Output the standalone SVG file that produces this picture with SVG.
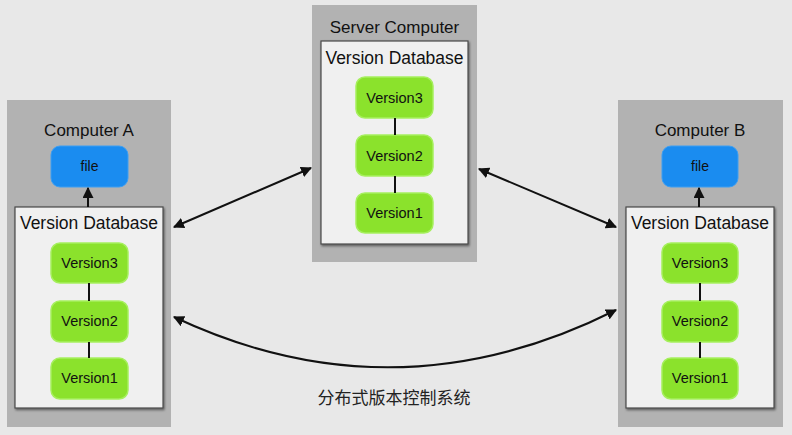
<svg xmlns="http://www.w3.org/2000/svg" width="792" height="435" viewBox="0 0 792 435">
<defs>
<marker id="ah" viewBox="0 0 10 10" refX="9" refY="5" markerWidth="5.5" markerHeight="5.5" orient="auto-start-reverse" markerUnits="strokeWidth">
<path d="M0,0 L10,5 L0,10 z" fill="#111"/>
</marker>
<filter id="sh" x="-10%" y="-10%" width="130%" height="130%">
<feDropShadow dx="1" dy="1.5" stdDeviation="1" flood-color="#000" flood-opacity="0.5"/>
</filter>
</defs>
<style>
.outer{fill:#b2b2b2;}
.db{fill:#f0f0f0;stroke:#4a4a4a;stroke-width:1.2;filter:url(#sh);}
.ver{fill:#8be22c;stroke:#a6ef5e;stroke-width:1.5;}
.file{fill:#1a8cf0;stroke:#3c9ef2;stroke-width:1;}
.t{font-family:"Liberation Sans",Arial,sans-serif;fill:#111;text-anchor:middle;}
.title{font-size:17px;}
.dbt{font-size:17.5px;}
.vt{font-size:14.5px;}
.ft{font-size:14px;}
.cn{font-family:"Noto Sans CJK SC","Noto Sans",sans-serif;font-size:17px;fill:#222;text-anchor:middle;}
.link{stroke:#111;stroke-width:2;fill:none;}
.conn{stroke:#111;stroke-width:2;fill:none;}
</style>
<rect width="792" height="435" fill="#e8e8e8"/>

<g id="computerA">
<rect class="outer" x="7" y="100" width="164" height="327"/>
<text class="t title" x="89" y="136">Computer A</text>
<rect class="file" x="51" y="146" width="77" height="41" rx="9"/>
<text class="t ft" x="89.5" y="171">file</text>
<rect class="db" x="15" y="207" width="148" height="201"/>
<text class="t dbt" x="89" y="229">Version Database</text>
<rect class="ver" x="51" y="243" width="77" height="40" rx="9"/>
<text class="t vt" x="89.5" y="268">Version3</text>
<rect class="ver" x="51" y="301" width="77" height="41" rx="9"/>
<text class="t vt" x="89.5" y="326">Version2</text>
<rect class="ver" x="51" y="358" width="77" height="41" rx="9"/>
<text class="t vt" x="89.5" y="383">Version1</text>
<line class="link" x1="89" y1="283" x2="89" y2="301"/>
<line class="link" x1="89" y1="342" x2="89" y2="358"/>
<line class="link" x1="88" y1="207" x2="88" y2="188" marker-end="url(#ah)"/>
</g>

<g id="server">
<rect class="outer" x="312" y="5" width="165" height="257"/>
<text class="t title" x="394.5" y="33">Server Computer</text>
<rect class="db" x="321" y="41" width="147" height="203"/>
<text class="t dbt" x="394.5" y="64">Version Database</text>
<rect class="ver" x="356" y="77" width="77" height="41" rx="9"/>
<text class="t vt" x="394.5" y="103">Version3</text>
<rect class="ver" x="356" y="135" width="77" height="41" rx="9"/>
<text class="t vt" x="394.5" y="161">Version2</text>
<rect class="ver" x="356" y="193" width="77" height="40" rx="9"/>
<text class="t vt" x="394.5" y="218">Version1</text>
<line class="link" x1="395" y1="118" x2="395" y2="135"/>
<line class="link" x1="395" y1="176" x2="395" y2="193"/>
</g>

<g id="computerB">
<rect class="outer" x="618" y="100" width="165" height="327"/>
<text class="t title" x="700" y="136">Computer B</text>
<rect class="file" x="662" y="146" width="76" height="41" rx="9"/>
<text class="t ft" x="700" y="171">file</text>
<rect class="db" x="626" y="207" width="148" height="201"/>
<text class="t dbt" x="700" y="229">Version Database</text>
<rect class="ver" x="662" y="243" width="76" height="40" rx="9"/>
<text class="t vt" x="700" y="268">Version3</text>
<rect class="ver" x="662" y="301" width="76" height="41" rx="9"/>
<text class="t vt" x="700" y="326">Version2</text>
<rect class="ver" x="662" y="358" width="76" height="41" rx="9"/>
<text class="t vt" x="700" y="383">Version1</text>
<line class="link" x1="700" y1="283" x2="700" y2="301"/>
<line class="link" x1="700" y1="342" x2="700" y2="358"/>
<line class="link" x1="699" y1="207" x2="699" y2="188" marker-end="url(#ah)"/>
</g>

<g id="connectors">
<line class="conn" x1="174" y1="227" x2="311" y2="168" marker-start="url(#ah)" marker-end="url(#ah)"/>
<line class="conn" x1="479" y1="169" x2="616" y2="227" marker-start="url(#ah)" marker-end="url(#ah)"/>
<path class="conn" d="M174,317 Q395,421 616,310" marker-start="url(#ah)" marker-end="url(#ah)"/>
</g>

<text class="cn" x="394" y="404">分布式版本控制系统</text>
</svg>
